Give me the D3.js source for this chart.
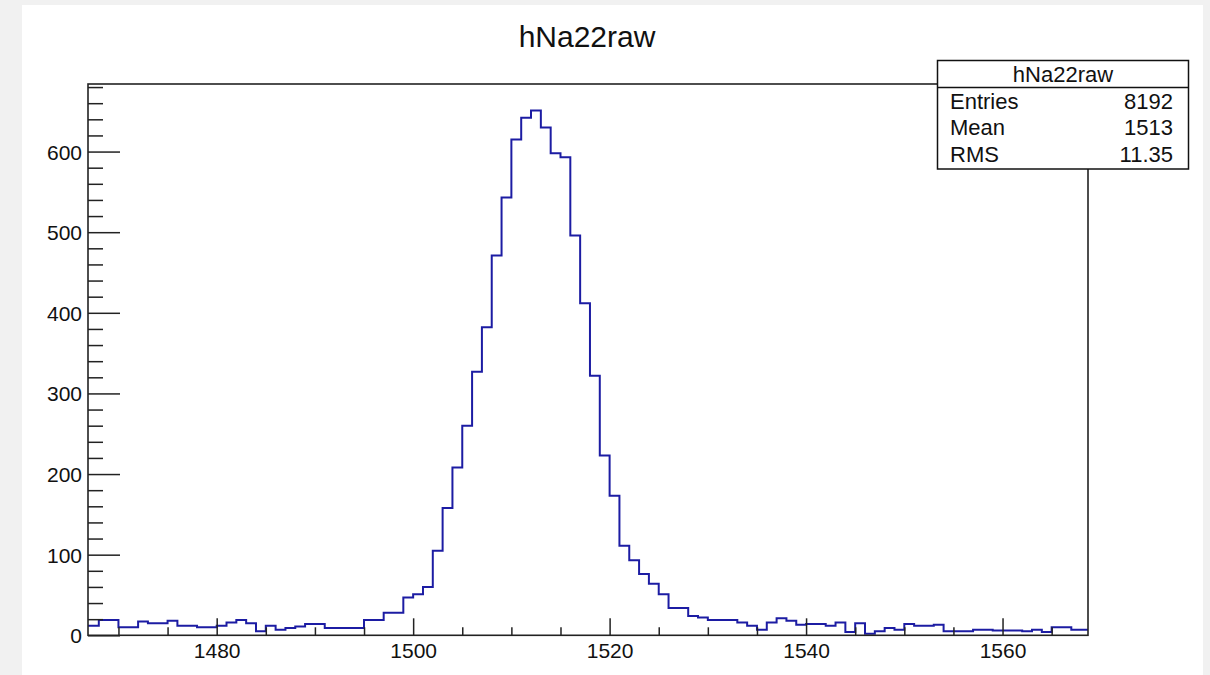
<!DOCTYPE html>
<html>
<head>
<meta charset="utf-8">
<script src="https://cdn.jsdelivr.net/npm/d3@7"></script>
<style>
  html, body { margin: 0; padding: 0; background: #f1f1f1; }
  svg { display: block; }
  text { font-family: "Liberation Sans", Arial, Helvetica, sans-serif; fill: #111; }
</style>
</head>
<body>
<svg id="chart" width="1210" height="675"></svg>
<script>
// ---- data ----
const title = "hNa22raw";
const binLowEdges = d3.range(1466, 1569); // bins of width 1
const binCounts = [
  12, 12, 19, 19, 10, 10, 17, 15, 15, 18,
  12, 12, 10, 10, 12, 16, 19, 15, 5, 12,
  7, 9, 11, 14, 14, 9, 9, 9, 9, 19,
  19, 28, 28, 47, 51, 60, 105, 158, 208, 260,
  327, 382, 471, 543, 615, 642, 651, 630, 598, 593,
  496, 412, 322, 223, 173, 111, 93, 76, 64, 51,
  34, 34, 24, 22, 19, 19, 19, 16, 12, 7,
  16, 21, 18, 13, 14, 14, 12, 16, 4, 15,
  2, 5, 9, 7, 14, 12, 12, 13, 5, 5,
  5, 7, 7, 6, 6, 6, 5, 7, 4, 10,
  10, 7, 7
];
const xMajorTicks = [1480, 1500, 1520, 1540, 1560];
const xMinorTicks = d3.range(1470, 1569, 5).filter(v => v % 20 !== 0);
const yMajorTicks = [0, 100, 200, 300, 400, 500, 600];
const yMinorTicks = d3.range(20, 684, 20).filter(v => v % 100 !== 0);
const statsLabels = ["Entries", "Mean", "RMS"];
const statsValues = ["8192", "1513", "11.35"];

// ---- layout ----
const svg = d3.select("#chart");
const F = { left: 88, right: 1088, top: 84, bottom: 635.3 };

svg.append("rect").attr("x", 22).attr("y", 5).attr("width", 1181).attr("height", 670).attr("fill", "#ffffff");

const x = d3.scaleLinear().domain([1466.9, 1568.7]).range([F.left, F.right]);
const y = d3.scaleLinear().domain([0, 683.8]).range([F.bottom, F.top]);

// title
svg.append("text").attr("x", 587).attr("y", 46.5).attr("text-anchor", "middle")
  .style("font-size", "30px").text(title);

// clip
svg.append("clipPath").attr("id", "frameClip").append("rect")
  .attr("x", F.left).attr("y", F.top).attr("width", F.right - F.left).attr("height", F.bottom - F.top);

// histogram outline
const pts = [];
binLowEdges.forEach((lo, i) => {
  pts.push([lo, binCounts[i]]);
  pts.push([lo + 1, binCounts[i]]);
});
const line = d3.line().x(d => x(d[0])).y(d => y(d[1]));
svg.append("path").attr("d", line(pts)).attr("fill", "none")
  .attr("stroke", "#1c1ca3").attr("stroke-width", 2).attr("clip-path", "url(#frameClip)");

// axes
const axisColor = "#222";
const gx = svg.append("g").attr("transform", `translate(0,${F.bottom})`)
  .call(d3.axisBottom(x).tickValues(xMajorTicks).tickSize(-17).tickPadding(8).tickFormat(d3.format("d")));
const gxm = svg.append("g").attr("transform", `translate(0,${F.bottom})`)
  .call(d3.axisBottom(x).tickValues(xMinorTicks).tickSize(-8).tickFormat(""));
const gy = svg.append("g").attr("transform", `translate(${F.left},0)`)
  .call(d3.axisLeft(y).tickValues(yMajorTicks).tickSize(-32).tickPadding(6).tickFormat(d3.format("d")));
const gym = svg.append("g").attr("transform", `translate(${F.left},0)`)
  .call(d3.axisLeft(y).tickValues(yMinorTicks).tickSize(-15).tickFormat(""));
[gx, gxm, gy, gym].forEach(g => {
  g.select(".domain").remove();
  g.selectAll("line").attr("stroke", axisColor).attr("stroke-width", 1.5);
  g.selectAll("text").style("font-size", "21px").attr("fill", "#111")
    .style("font-family", '"Liberation Sans", Arial, Helvetica, sans-serif');
});
gy.selectAll("text").attr("dy", "0.36em");

// frame
svg.append("rect").attr("x", F.left).attr("y", F.top).attr("width", F.right - F.left)
  .attr("height", F.bottom - F.top).attr("fill", "none").attr("stroke", axisColor).attr("stroke-width", 1.6);

// stats box
const S = { x0: 937.5, x1: 1188.5, y0: 60.5, y1: 169, sep: 87.5 };
svg.append("rect").attr("x", S.x0).attr("y", S.y0).attr("width", S.x1 - S.x0).attr("height", S.y1 - S.y0)
  .attr("fill", "#fff").attr("stroke", "#111").attr("stroke-width", 1.5);
svg.append("line").attr("x1", S.x0).attr("x2", S.x1).attr("y1", S.sep).attr("y2", S.sep)
  .attr("stroke", "#111").attr("stroke-width", 1.5);
svg.append("text").attr("x", (S.x0 + S.x1) / 2).attr("y", 81.5).attr("text-anchor", "middle")
  .style("font-size", "22px").text(title);
const rowBase = [108.5, 135.2, 161.8];
statsLabels.forEach((lab, i) => {
  svg.append("text").attr("x", 950).attr("y", rowBase[i]).style("font-size", "22px").text(lab);
  svg.append("text").attr("x", 1173).attr("y", rowBase[i]).attr("text-anchor", "end")
    .style("font-size", "22px").text(statsValues[i]);
});
</script>
</body>
</html>
